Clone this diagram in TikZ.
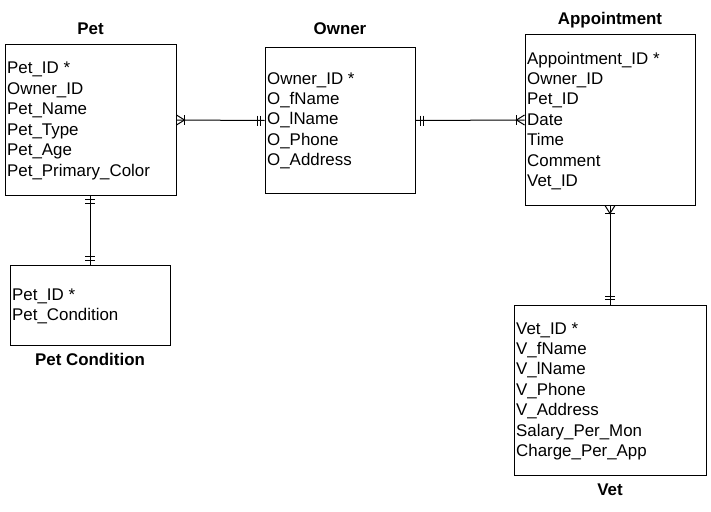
\documentclass[tikz,border=0pt]{standalone}
\usepackage{fontspec}
\setmainfont{Liberation Sans}
\usetikzlibrary{calc}
\begin{document}
\begin{tikzpicture}[x=1pt,y=-1pt,
  box/.style={draw, line width=1pt, inner sep=0pt},
  field/.style={anchor=base west, inner sep=0pt, font=\fontsize{16.9}{20.4}\selectfont},
  title/.style={anchor=base, inner sep=0pt, font=\fontsize{16.9}{20.4}\selectfont\bfseries},
  conn/.style={line width=1pt}]
\useasboundingbox (0,0) rectangle (711,511);
% boxes
\node[box, minimum width=171, minimum height=150] (pet) at (90.5,120) {};
\node[box, minimum width=150, minimum height=145] (owner) at (340,120.5) {};
\node[box, minimum width=170, minimum height=170] (appt) at (610,120) {};
\node[box, minimum width=160, minimum height=80] (cond) at (90,305) {};
\node[box, minimum width=192, minimum height=170] (vet) at (610,390) {};
% titles
\node[title] (tpet) at (90.5,35) {Pet};
\node[title] (towner) at (340,35) {Owner};
\node[title] (tappt) at (610,25) {Appointment};
\node[title] (tcond) at (90,365) {Pet Condition};
\node[title] (tvet) at (610,495) {Vet};
% fields
\foreach \t [count=\i] in {Pet\_ID *, Owner\_ID, Pet\_Name, Pet\_Type, Pet\_Age, Pet\_Primary\_Color}
  \node[field] (petf\i) at (7,{74+20.4*(\i-1)}) {\t};
\foreach \t [count=\i] in {Owner\_ID *, O\_fName, O\_lName, O\_Phone, O\_Address}
  \node[field] (ownf\i) at (267,{84+20.4*(\i-1)}) {\t};
\foreach \t [count=\i] in {Appointment\_ID *, Owner\_ID, Pet\_ID, Date, Time, Comment, Vet\_ID}
  \node[field] (appf\i) at (527,{64+20.4*(\i-1)}) {\t};
\foreach \t [count=\i] in {Pet\_ID *, Pet\_Condition}
  \node[field] (conf\i) at (12,{300+20.4*(\i-1)}) {\t};
\foreach \t [count=\i] in {Vet\_ID *, V\_fName, V\_lName, V\_Phone, V\_Address, Salary\_Per\_Mon, Charge\_Per\_App}
  \node[field] (vetf\i) at (516,{334+20.4*(\i-1)}) {\t};
% connectors
\draw[conn] (pet.east) -- (owner.west);
\draw[conn] (owner.east) -- (appt.west);
\draw[conn] (cond.north |- pet.south) -- (cond.north);
\draw[conn] (appt.south) -- (vet.north);
% Pet end: crow's foot + bar
\draw[conn] ($(pet.east)+(0,-5)$) -- ($(pet.east)+(8,0)$) -- ($(pet.east)+(0,5)$);
\draw[conn] ($(pet.east)+(8,-5)$) -- ($(pet.east)+(8,5)$);
% Owner west: double bar
\draw[conn] ($(owner.west)+(-7,-5)$) -- ($(owner.west)+(-7,5)$);
\draw[conn] ($(owner.west)+(-4,-5)$) -- ($(owner.west)+(-4,5)$);
% Owner east: double bar
\draw[conn] ($(owner.east)+(5,-5)$) -- ($(owner.east)+(5,5)$);
\draw[conn] ($(owner.east)+(8,-5)$) -- ($(owner.east)+(8,5)$);
% Appointment west: crow's foot + bar
\draw[conn] ($(appt.west)+(0,-5)$) -- ($(appt.west)+(-8,0)$) -- ($(appt.west)+(0,5)$);
\draw[conn] ($(appt.west)+(-8,-5)$) -- ($(appt.west)+(-8,5)$);
% Pet south: double bar
\draw[conn] ($(cond.north |- pet.south)+(-5,4)$) -- ($(cond.north |- pet.south)+(5,4)$);
\draw[conn] ($(cond.north |- pet.south)+(-5,8)$) -- ($(cond.north |- pet.south)+(5,8)$);
% Pet Condition north: double bar
\draw[conn] ($(cond.north)+(-5,-8)$) -- ($(cond.north)+(5,-8)$);
\draw[conn] ($(cond.north)+(-5,-4)$) -- ($(cond.north)+(5,-4)$);
% Appointment south: crow's foot + bar
\draw[conn] ($(appt.south)+(-5,0)$) -- ($(appt.south)+(0,8)$) -- ($(appt.south)+(5,0)$);
\draw[conn] ($(appt.south)+(-5,8)$) -- ($(appt.south)+(5,8)$);
% Vet north: double bar
\draw[conn] ($(vet.north)+(-5,-8)$) -- ($(vet.north)+(5,-8)$);
\draw[conn] ($(vet.north)+(-5,-5)$) -- ($(vet.north)+(5,-5)$);
\end{tikzpicture}
\end{document}
